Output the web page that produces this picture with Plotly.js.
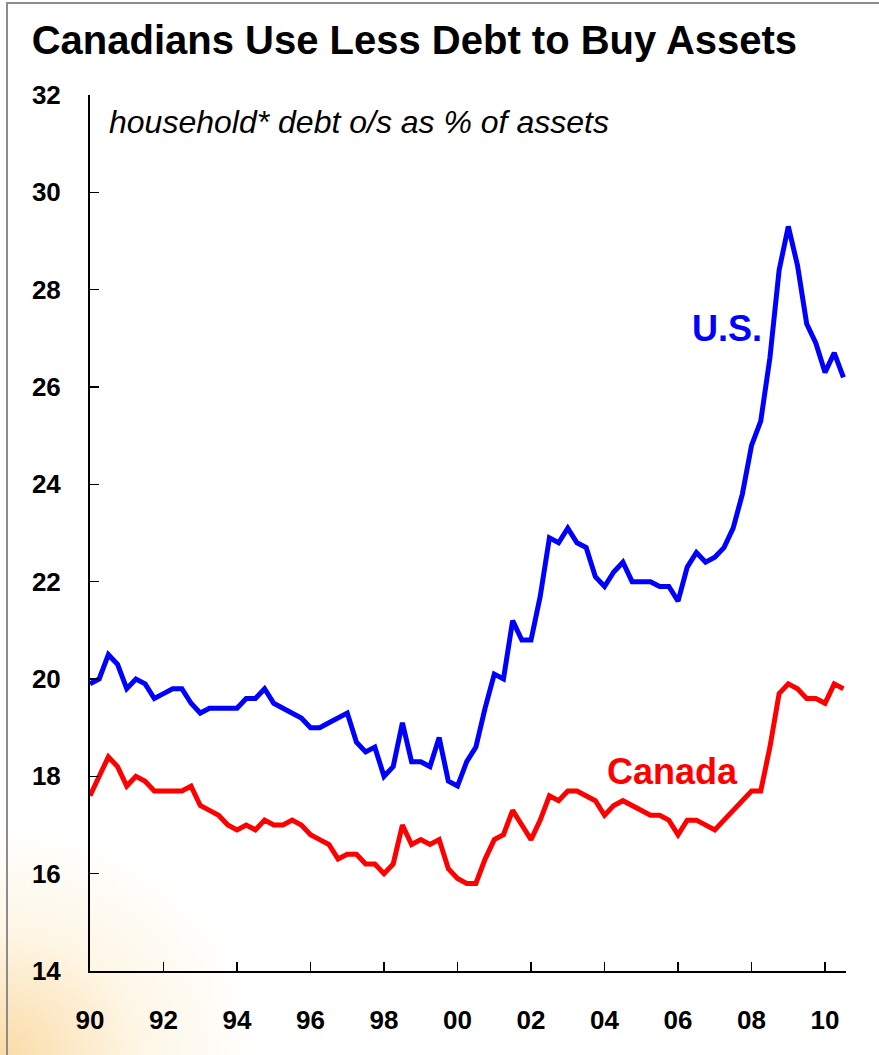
<!DOCTYPE html>
<html>
<head>
<meta charset="utf-8">
<script src="https://cdn.plot.ly/plotly-3.0.1.min.js"></script>
<style>
  html, body { margin: 0; padding: 0; background: #ffffff; overflow: hidden; }
  #wrap { position: relative; width: 879px; height: 1055px;
    background: radial-gradient(ellipse 260px 230px at 0% 100%, rgba(248,200,120,0.65), rgba(252,228,175,0.3) 55%, rgba(255,255,255,0) 100%), #ffffff; }
  #frame { position: absolute; left: 6px; top: 2px; right: -4px; bottom: -4px;
    border-left: 2px solid #8c8c8c; border-top: 2px solid #8c8c8c; pointer-events: none; }
  #chart { position: absolute; left: 0; top: 0; width: 879px; height: 1055px; }
</style>
</head>
<body>
<div id="wrap">
  <div id="frame"></div>
  <div id="chart"></div>
</div>
<script>
// Quarterly data, 1990 Q1 to 2010 Q3
const startYear = 1990;
const usValues = [
  19.9, 20.0, 20.5, 20.3, 19.8, 20.0, 19.9, 19.6, 19.7, 19.8,
  19.8, 19.5, 19.3, 19.4, 19.4, 19.4, 19.4, 19.6, 19.6, 19.8,
  19.5, 19.4, 19.3, 19.2, 19.0, 19.0, 19.1, 19.2, 19.3, 18.7,
  18.5, 18.6, 18.0, 18.2, 19.1, 18.3, 18.3, 18.2, 18.8, 17.9,
  17.8, 18.3, 18.6, 19.4, 20.1, 20.0, 21.2, 20.8, 20.8, 21.7,
  22.9, 22.8, 23.1, 22.8, 22.7, 22.1, 21.9, 22.2, 22.4, 22.0,
  22.0, 22.0, 21.9, 21.9, 21.6, 22.3, 22.6, 22.4, 22.5, 22.7,
  23.1, 23.8, 24.8, 25.3, 26.6, 28.4, 29.3, 28.5, 27.3, 26.9,
  26.3, 26.7, 26.2
];
const canadaValues = [
  17.6, 18.0, 18.4, 18.2, 17.8, 18.0, 17.9, 17.7, 17.7, 17.7,
  17.7, 17.8, 17.4, 17.3, 17.2, 17.0, 16.9, 17.0, 16.9, 17.1,
  17.0, 17.0, 17.1, 17.0, 16.8, 16.7, 16.6, 16.3, 16.4, 16.4,
  16.2, 16.2, 16.0, 16.2, 17.0, 16.6, 16.7, 16.6, 16.7, 16.1,
  15.9, 15.8, 15.8, 16.3, 16.7, 16.8, 17.3, 17.0, 16.7, 17.1,
  17.6, 17.5, 17.7, 17.7, 17.6, 17.5, 17.2, 17.4, 17.5, 17.4,
  17.3, 17.2, 17.2, 17.1, 16.8, 17.1, 17.1, 17.0, 16.9, 17.1,
  17.3, 17.5, 17.7, 17.7, 18.6, 19.7, 19.9, 19.8, 19.6, 19.6,
  19.5, 19.9, 19.8
];
const quarters = usValues.map((_, i) => startYear + i / 4);
const xTickVals = [1990, 1992, 1994, 1996, 1998, 2000, 2002, 2004, 2006, 2008, 2010];
const xTickText = ['90', '92', '94', '96', '98', '00', '02', '04', '06', '08', '10'];
const yTickVals = [14, 16, 18, 20, 22, 24, 26, 28, 30, 32];

const FONT = 'Liberation Sans, Arial, sans-serif';

const traces = [
  { x: quarters, y: usValues, type: 'scatter', mode: 'lines', name: 'U.S.',
    line: { color: '#0000ff', width: 5, shape: 'linear' }, hoverinfo: 'skip' },
  { x: quarters, y: canadaValues, type: 'scatter', mode: 'lines', name: 'Canada',
    line: { color: '#ff0000', width: 5, shape: 'linear' }, hoverinfo: 'skip' }
];

const layout = {
  width: 879, height: 1055,
  margin: { l: 90, r: 33, t: 95, b: 84 },
  paper_bgcolor: 'rgba(0,0,0,0)', plot_bgcolor: 'rgba(0,0,0,0)',
  showlegend: false,
  font: { family: FONT, color: '#000000' },
  title: {
    text: 'Canadians Use Less Debt to Buy Assets',
    font: { family: FONT, size: 40, weight: 'bold', color: '#000000' },
    xref: 'container', x: 0.036, xanchor: 'left',
    yref: 'container', y: 0.962, yanchor: 'middle'
  },
  xaxis: {
    range: [1990, 2010.57], showgrid: false, zeroline: false,
    showline: true, linecolor: '#000000', linewidth: 2,
    ticks: 'inside', ticklen: 9, tickwidth: 1.5, tickcolor: '#000000',
    tickmode: 'array', tickvals: xTickVals, ticktext: xTickText,
    tickfont: { family: FONT, size: 26, weight: 'bold', color: '#000000' },
    ticklabelstandoff: 25, fixedrange: true
  },
  yaxis: {
    range: [14, 32], showgrid: false, zeroline: false,
    showline: true, linecolor: '#000000', linewidth: 2,
    ticks: 'inside', ticklen: 9, tickwidth: 1.5, tickcolor: '#000000',
    tickmode: 'array', tickvals: yTickVals,
    tickfont: { family: FONT, size: 26, weight: 'bold', color: '#000000' },
    ticklabelstandoff: 22, fixedrange: true
  },
  annotations: [
    { text: 'household* debt o/s as % of assets', xref: 'paper', yref: 'paper',
      x: 0.022, y: 0.969, xanchor: 'left', yanchor: 'middle', showarrow: false,
      font: { family: FONT, size: 32, style: 'italic', color: '#000000' } },
    { text: 'U.S.', xref: 'x', yref: 'y', x: 2007.33, y: 27.2,
      xanchor: 'center', yanchor: 'middle', showarrow: false,
      font: { family: FONT, size: 36, weight: 'bold', color: '#0000ff' } },
    { text: 'Canada', xref: 'x', yref: 'y', x: 2005.85, y: 18.1,
      xanchor: 'center', yanchor: 'middle', showarrow: false,
      font: { family: FONT, size: 36, weight: 'bold', color: '#ff0000' } }
  ]
};

Plotly.newPlot('chart', traces, layout, { staticPlot: true, displayModeBar: false });
</script>
</body>
</html>
